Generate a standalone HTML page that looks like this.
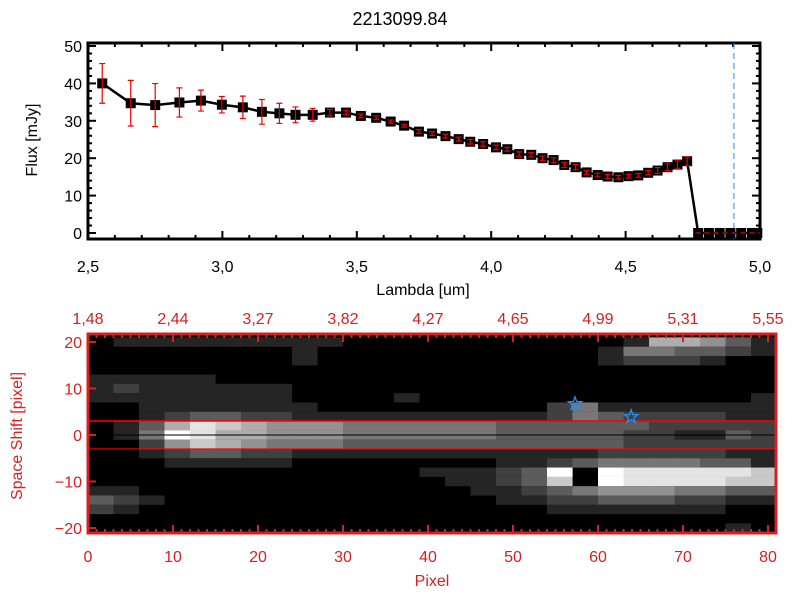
<!DOCTYPE html>
<html><head><meta charset="utf-8"><style>
body{margin:0;background:#fff}
svg text{font-family:"Liberation Sans",sans-serif}
</style></head><body>
<svg id="c" width="800" height="600" xmlns="http://www.w3.org/2000/svg"></svg>
<script>
const wl=[2.553,2.659,2.75,2.84,2.92,2.998,3.076,3.147,3.212,3.272,3.336,3.4,3.46,3.515,3.572,3.626,3.676,3.731,3.78,3.83,3.879,3.922,3.97,4.018,4.06,4.104,4.149,4.191,4.232,4.272,4.314,4.355,4.396,4.433,4.473,4.511,4.547,4.584,4.619,4.656,4.693,4.729,4.77,4.81,4.85,4.89,4.93,4.97,4.99];
const flux=[40.0,34.7,34.2,34.9,35.4,34.3,33.6,32.4,32.0,31.6,31.6,32.2,32.2,31.3,30.8,29.8,28.7,27.1,26.6,25.9,25.1,24.4,23.8,22.9,22.4,21.1,20.9,20.0,19.5,18.2,17.6,16.2,15.5,15.1,14.9,15.2,15.4,16.1,16.7,17.6,18.3,19.2,0,0,0,0,0,0,0];
const ferr=[5.3,6.1,5.75,3.9,2.8,2.2,3.0,3.3,2.7,2.1,1.7,0.85,0.6,0.5,0.5,0.4,0.4,0.5,0.5,0.5,0.5,0.6,0.6,0.6,0.5,0.6,0.6,0.6,0.6,0.7,0.7,0.5,0.5,0.5,0.5,0.5,0.5,0.6,0.8,0.9,1.0,1.2,0,0,0,0,0,0,0];
const xTicks=[2.5,3.0,3.5,4.0,4.5,5.0];
const xTickLabels=["2,5","3,0","3,5","4,0","4,5","5,0"];
const yTicks=[0,10,20,30,40,50];
const cutLambda=4.903;
const topLabels=["1,48","2,44","3,27","3,82","4,27","4,65","4,99","5,31","5,55"];
const pixTicks=[0,10,20,30,40,50,60,70,80];
const shiftTicks=[-20,-10,0,10,20];
const starX=[57.3,63.9];
const starY=[6.7,3.9];
const img=[
"011111111100000000000166531",
"000000001000000000001443321",
"000000001000000000001222100",
"000000000000000000000000000",
"111110000000000000000000000",
"121111110000000000000000000",
"111111110000100000000000001",
"001111111000000000241111111",
"001233221111111111243222211",
"013687655544444433333322222",
"014986655544444433333221132",
"002576544433333333333222222",
"001233221111111111112222211",
"000111110000000011234444331",
"000000000000011123909888887",
"000000000000001123709888877",
"110000000000000112345554433",
"321000000000000011223332211",
"210000000000000000111111100",
"000000000000000000000000000",
"000000000000000000000000010"];

const S=document.getElementById('c');const NS="http://www.w3.org/2000/svg";
function mk(t,a,p){const e=document.createElementNS(NS,t);for(const k in a)e.setAttribute(k,a[k]);(p||S).appendChild(e);return e;}
const X=v=>88+(v-2.5)*268.8, Y=v=>233-v*3.74;
const t=mk('text',{x:400,y:25,'text-anchor':'middle','font-size':18});t.textContent="2213099.84";


for(let v=2.5;v<=5.001;v+=0.1){const maj=Math.abs(v*2-Math.round(v*2))<1e-6;const L=maj?8:4;
 mk('line',{x1:X(v),x2:X(v),y1:239,y2:239-L,stroke:'#000','stroke-width':2});
 mk('line',{x1:X(v),x2:X(v),y1:43,y2:43+L,stroke:'#000','stroke-width':2});}
for(let v=0;v<=50;v+=2){const L=v%10==0?8:4;
 mk('line',{x1:88,x2:88+L,y1:Y(v),y2:Y(v),stroke:'#000','stroke-width':2});
 mk('line',{x1:760,x2:760-L,y1:Y(v),y2:Y(v),stroke:'#000','stroke-width':2});}
mk('rect',{x:88,y:43,width:672,height:196,fill:'none',stroke:'#000','stroke-width':3});
xTicks.forEach((v,i)=>{const e=mk('text',{x:X(v),y:272,'text-anchor':'middle','font-size':16});e.textContent=xTickLabels[i];

});
yTicks.forEach(v=>{const e=mk('text',{x:82,y:Y(v)+6,'text-anchor':'end','font-size':16});e.textContent=v;

});
let e=mk('text',{x:423,y:295,'text-anchor':'middle','font-size':16});e.textContent="Lambda [um]";


e=mk('text',{x:37,y:140,'text-anchor':'middle','font-size':16,transform:'rotate(-90 37 140)'});e.textContent="Flux [mJy]";


e=mk('line',{x1:X(cutLambda),x2:X(cutLambda),y1:43,y2:239,stroke:'#1e90ff','stroke-width':1,'stroke-dasharray':'6,4'});


e=mk('polyline',{points:wl.map((w,i)=>X(w)+','+Y(flux[i])).join(' '),fill:'none',stroke:'#000','stroke-width':2.5});


wl.forEach((w,i)=>{const r=mk('rect',{x:X(w)-5,y:Y(flux[i])-5,width:10,height:10,fill:'#000'});


if(ferr[i]>0){const g=mk('path',{d:`M${X(w)},${Y(flux[i]+ferr[i])}V${Y(flux[i]-ferr[i])}M${X(w)-3},${Y(flux[i]+ferr[i])}h6M${X(w)-3},${Y(flux[i]-ferr[i])}h6`,stroke:'#e00',fill:'none','stroke-width':1.2});

}});
e=mk('line',{x1:X(4.76),x2:760,y1:Y(0),y2:Y(0),stroke:'#e00','stroke-width':1.2,'stroke-dasharray':'5,4'});



const PX=p=>88+p*8.5, PY=v=>435-v*4.65;
mk('rect',{x:88,y:334,width:688,height:199,fill:'#000'});
img.forEach((row,r)=>{for(let c=0;c<27;c++){const d=+(row[c]||0);if(!d)continue;const g=Math.round(d/9*245+10);
 const cell=mk('rect',{x:PX(3*c),y:PY(21-2*r),width:25.6,height:9.4,fill:`rgb(${g},${g},${g})`});
 
 }});
e=mk('line',{x1:88,x2:776,y1:PY(3),y2:PY(3),stroke:'#f00','stroke-width':1.5});


e=mk('line',{x1:88,x2:776,y1:PY(-3),y2:PY(-3),stroke:'#f00','stroke-width':1.2});


e=mk('line',{x1:88,x2:776,y1:PY(0),y2:PY(0),stroke:'#000','stroke-width':1});


starX.forEach((sx,i)=>{const cx=PX(sx),cy=PY(starY[i]);let p='';for(let k=0;k<10;k++){const R=k%2?2.8:7,a=-Math.PI/2+k*Math.PI/5;p+=(cx+R*Math.cos(a))+','+(cy+R*Math.sin(a))+' ';}
 const s=mk('polygon',{points:p,fill:'none',stroke:'#1e90ff','stroke-width':1.3});
 
 });
const R='#d42020';
for(let p=0;p<=81;p++){const L=p%10==0?8:4;
 mk('line',{x1:PX(p),x2:PX(p),y1:533,y2:533-L,stroke:R,'stroke-width':2});
 mk('line',{x1:PX(p),x2:PX(p),y1:334,y2:334+L,stroke:R,'stroke-width':2});}
shiftTicks.forEach(v=>{mk('line',{x1:88,x2:96,y1:PY(v),y2:PY(v),stroke:R,'stroke-width':2});});
mk('rect',{x:88,y:334,width:688,height:199,fill:'none',stroke:R,'stroke-width':3});
pixTicks.forEach((p,i)=>{let t=mk('text',{x:PX(p),y:562,'text-anchor':'middle','font-size':16,fill:R});t.textContent=p;


t=mk('text',{x:PX(p),y:324,'text-anchor':'middle','font-size':16,fill:R});t.textContent=topLabels[i];

});
shiftTicks.forEach(v=>{const t=mk('text',{x:82,y:PY(v)+6,'text-anchor':'end','font-size':16,fill:R});t.textContent=v==0?'0':(v<0?'\u2212'+(-v):v);

});
e=mk('text',{x:432,y:586,'text-anchor':'middle','font-size':16,fill:R});e.textContent="Pixel";


e=mk('text',{x:22,y:436,'text-anchor':'middle','font-size':16,fill:R,transform:'rotate(-90 22 436)'});e.textContent="Space Shift [pixel]";


</script>
</body></html>
